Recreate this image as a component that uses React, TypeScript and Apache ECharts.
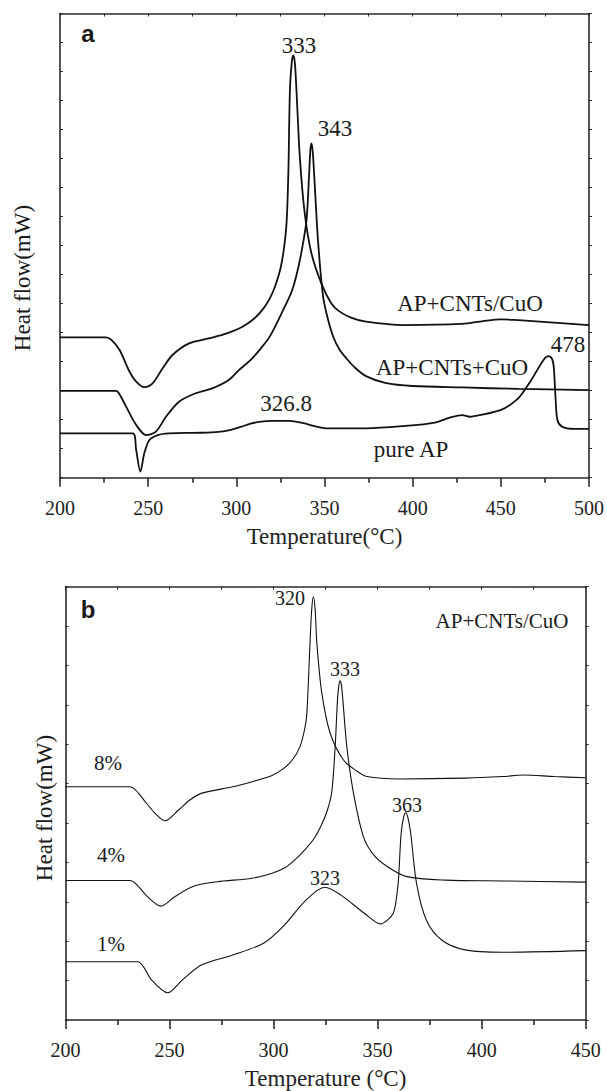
import React, { useEffect, useRef } from "react";
import * as echarts from "echarts";

// ---------- Panel a : x = temperature (°C), y = heat flow (arb. units, 0..16) ----------
const xTicksA = { min: 200, max: 500, step: 50 };
const apCntsSlashCuO: [number, number][] = [
  [200, 4.84], [226, 4.84], [229, 4.76], [233.8, 4.4], [239.4, 3.66], [243.2, 3.31], [247.8, 3.12],
  [252.5, 3.25], [258.2, 3.77], [263.8, 4.23], [273.2, 4.63], [284.4, 4.8], [292, 4.92], [298, 5.05],
  [304, 5.22], [310, 5.48], [315, 5.8], [319, 6.18], [322, 6.6], [325, 7.2], [327, 7.9], [328.5, 8.8],
  [329.5, 10.5], [330.4, 13.36], [331.5, 14.35], [332.3, 14.56], [333.2, 14.3], [334.1, 13.36], [336, 11.06],
  [338.8, 9.11], [342.6, 7.73], [348.2, 6.7], [353.8, 6.01], [358, 5.75], [365, 5.52], [373.5, 5.38],
  [395, 5.26], [428, 5.3], [440, 5.4], [450, 5.46], [460, 5.43], [472, 5.38], [500, 5.26],
];
const apCntsPlusCuO: [number, number][] = [
  [200, 2.99], [231.9, 2.99], [234, 2.85], [237.5, 2.45], [243.2, 1.82], [248.8, 1.47], [254.4, 1.59],
  [260.1, 2.1], [267.5, 2.62], [276.9, 2.91], [286.3, 3.08], [295.7, 3.37], [301.5, 3.71], [308, 4.05],
  [314.6, 4.51], [319.1, 4.88], [323.8, 5.43], [327.5, 5.9], [331.3, 6.4], [334, 6.95], [337, 7.8],
  [339.8, 8.88], [341.3, 10.49], [342, 11.3], [342.6, 11.52], [343.3, 11.25], [344.1, 10.49],
  [346.3, 8.19], [349.2, 6.24], [352, 5.45], [355, 4.85], [358.5, 4.42], [362.6, 4.1], [367.5, 3.78],
  [373.5, 3.5], [384.4, 3.27], [400, 3.16], [428, 3.11], [460, 3.06], [500, 3.02],
];
const pureAP: [number, number][] = [
  [200, 1.53], [241.3, 1.53], [243.2, 0.95], [245.6, 0.21], [247.8, 0.84], [250.7, 1.3], [255.4, 1.47],
  [261.9, 1.53], [280, 1.55], [290, 1.58], [297, 1.65], [303, 1.76], [308, 1.86], [314, 1.93], [320, 1.96],
  [330, 1.96], [338, 1.88], [345, 1.77], [352, 1.7], [373.5, 1.7], [395.3, 1.78], [412.7, 1.9],
  [421.5, 2.08], [428, 2.16], [432.4, 2.1], [440, 2.18], [449.8, 2.33], [455, 2.5], [460.7, 2.79],
  [467.3, 3.37], [474.2, 4.06], [477.1, 4.19], [479, 4.1], [480, 3.83], [481, 2.79], [482.1, 1.99],
  [484.7, 1.76], [491.3, 1.68], [500, 1.68],
];

// ---------- Panel b : x = temperature (°C), y = heat flow (arb. units, 0..11) ----------
const xTicksB = { min: 200, max: 450, step: 50 };
const pct8: [number, number][] = [
  [200, 5.92], [231, 5.92], [233.5, 5.85], [237.6, 5.59], [243, 5.25], [247.8, 5.06], [254.3, 5.33],
  [259.9, 5.59], [265.5, 5.76], [280.4, 5.92], [289.7, 6.05], [299, 6.2], [304.7, 6.38], [309, 6.6],
  [312.7, 6.94], [315, 7.4], [316, 7.79], [317.5, 9.56], [318.3, 10.4], [319.1, 10.75], [320, 10.4],
  [320.8, 9.56], [323.2, 8.29], [327.2, 7.28], [333.6, 6.6], [340, 6.32], [344.8, 6.18], [360.8, 6.12],
  [392, 6.14], [410, 6.18], [420, 6.22], [435, 6.18], [450, 6.15],
];
const pct4: [number, number][] = [
  [200, 3.54], [231, 3.54], [234, 3.45], [239.4, 3.13], [245.9, 2.89], [252.5, 3.13], [261.8, 3.4],
  [272.9, 3.51], [289.7, 3.6], [299, 3.72], [305, 3.85], [310.1, 4.06], [315, 4.32], [319.4, 4.6],
  [323, 4.95], [326, 5.35], [328, 5.8], [329.6, 6.94], [330.7, 8.12], [331.4, 8.5], [332, 8.61],
  [332.6, 8.5], [333.3, 8.12], [335.2, 6.94], [338.4, 5.76], [343.2, 4.65], [348, 4.2], [354.8, 3.89],
  [364, 3.64], [382.7, 3.55], [410.6, 3.53], [450, 3.5],
];
const pct1: [number, number][] = [
  [200, 1.48], [234.8, 1.48], [237.5, 1.35], [241.3, 1.02], [249.1, 0.69], [256.2, 1.02], [265.5, 1.4],
  [280.4, 1.65], [295.2, 1.95], [304.5, 2.37], [315.7, 3.05], [324.6, 3.37], [332.4, 3.17],
  [343.6, 2.71], [351.4, 2.44], [355, 2.55], [357.5, 2.71], [358.8, 3.0], [360, 3.55], [361.3, 4.74],
  [362.5, 5.15], [363.5, 5.26], [364.5, 5.15], [365.9, 4.74], [368.7, 3.47], [373.4, 2.54], [380.8, 2.03],
  [392, 1.78], [410.6, 1.72], [450, 1.76],
];
const yMaxA = 16;
const yMaxB = 11;

const SERIF = "'Liberation Serif', 'Times New Roman', serif";
const SANS = "'Liberation Sans', Arial, sans-serif";
const AX = "#2a2a2a";

function bottomAxis(grid: number, t: { min: number; max: number; step: number }, name: string) {
  return {
    type: "value", gridIndex: grid, position: "bottom", min: t.min, max: t.max, interval: t.step,
    axisLine: { show: true, onZero: false, lineStyle: { color: AX, width: 1.6 } },
    axisTick: { show: true, inside: false, length: 9, lineStyle: { color: AX, width: 1.6 } },
    minorTick: { show: true, splitNumber: 2, length: 5, lineStyle: { color: AX, width: 1.6 } },
    axisLabel: { show: true, margin: 20, fontFamily: SERIF, fontSize: 20, color: "#222" },
    splitLine: { show: false }, minorSplitLine: { show: false },
    name, nameLocation: "middle", nameGap: 47,
    nameTextStyle: { fontFamily: SERIF, fontSize: 23, color: "#222" },
  };
}
function topAxis(grid: number, t: { min: number; max: number; step: number }) {
  return {
    type: "value", gridIndex: grid, position: "top", min: t.min, max: t.max, interval: t.step,
    axisLine: { show: true, onZero: false, lineStyle: { color: AX, width: 1.6 } },
    axisTick: { show: true, inside: true, length: 3, lineStyle: { color: AX, width: 1 } },
    minorTick: { show: true, splitNumber: 2, length: 3, lineStyle: { color: AX, width: 1 } },
    axisLabel: { show: false }, splitLine: { show: false },
  };
}
function sideAxis(grid: number, max: number, pos: "left" | "right") {
  return {
    type: "value", gridIndex: grid, position: pos, min: 0, max, interval: 1,
    axisLine: { show: true, onZero: false, lineStyle: { color: AX, width: 1.6 } },
    axisTick: { show: true, inside: pos === "left", length: 3, lineStyle: { color: AX, width: 1 } },
    axisLabel: { show: false }, splitLine: { show: false },
  };
}
function curve(data: [number, number][], xi: number, yi: number, width: number) {
  return {
    type: "line", data, xAxisIndex: xi, yAxisIndex: yi, showSymbol: false, symbol: "none",
    smooth: 0.3, silent: true,
    lineStyle: { color: "#111", width },
  };
}
function label(text: string, x: number, y: number, size: number, font = SERIF, weight = "normal") {
  return {
    type: "text", x, y, silent: true,
    style: { text, fill: "#1a1a1a", font: `${weight} ${size}px ${font}`, textAlign: "center", textVerticalAlign: "middle" },
  };
}
function ylabel(text: string, x: number, y: number) {
  return {
    type: "text", x, y, rotation: Math.PI / 2, silent: true,
    style: { text, fill: "#1a1a1a", font: `23px ${SERIF}`, textAlign: "center", textVerticalAlign: "middle" },
  };
}

export default function App() {
  const ref = useRef<HTMLDivElement>(null);
  useEffect(() => {
    if (!ref.current) return;
    const chart = echarts.init(ref.current, undefined, { renderer: "svg" });
    chart.setOption({
      animation: false,
      backgroundColor: "#ffffff",
      grid: [
        { left: 60, top: 13.5, width: 532.5, height: 464.2 },
        { left: 65.5, top: 586.7, width: 520.2, height: 433.3 },
      ],
      xAxis: [
        bottomAxis(0, xTicksA, "Temperature(°C)"),
        topAxis(0, xTicksA),
        bottomAxis(1, xTicksB, "Temperature (°C)"),
        topAxis(1, xTicksB),
      ],
      yAxis: [
        sideAxis(0, yMaxA, "left"),
        sideAxis(0, yMaxA, "right"),
        sideAxis(1, yMaxB, "left"),
        sideAxis(1, yMaxB, "right"),
      ],
      series: [
        curve(apCntsSlashCuO, 0, 0, 1.8),
        curve(apCntsPlusCuO, 0, 0, 1.8),
        curve(pureAP, 0, 0, 1.8),
        curve(pct8, 2, 2, 1.1),
        curve(pct4, 2, 2, 1.1),
        curve(pct1, 2, 2, 1.1),
      ],
      graphic: [
        label("a", 88, 33, 24, SANS, "bold"),
        label("333", 299, 45, 23),
        label("343", 335, 128, 23),
        label("AP+CNTs/CuO", 470, 303, 23),
        label("AP+CNTs+CuO", 452, 367, 23),
        label("478", 568, 344, 23),
        label("326.8", 286, 403, 23),
        label("pure AP", 411, 449, 23),
        ylabel("Heat flow(mW)", 22, 278),
        label("b", 88, 609, 24, SANS, "bold"),
        label("320", 290, 598, 20),
        label("333", 345, 669, 20),
        label("363", 407, 805, 20),
        label("AP+CNTs/CuO", 502, 621, 21),
        label("8%", 108, 763, 21),
        label("4%", 111, 855, 21),
        label("1%", 111, 944, 21),
        label("323", 325, 878, 20),
        ylabel("Heat flow(mW)", 44, 808),
      ],
    });
    return () => chart.dispose();
  }, []);
  return <div ref={ref} style={{ position: "fixed", left: 0, top: 0, width: 607, height: 1091 }} />;
}
